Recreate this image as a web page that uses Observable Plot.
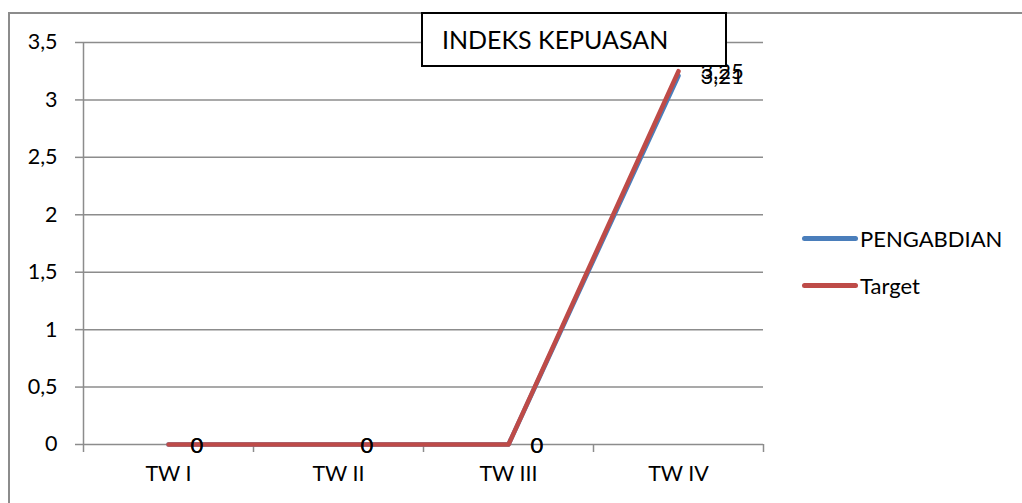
<!DOCTYPE html>
<html>
<head>
<meta charset="utf-8">
<script src="https://cdn.jsdelivr.net/npm/d3@7"></script>
<script src="https://cdn.jsdelivr.net/npm/@observablehq/plot@0.6"></script>
<style>
  html, body { margin: 0; padding: 0; background: #fff; }
  #wrap { position: relative; width: 1022px; height: 503px; overflow: hidden; font-family: Lato, "Open Sans", sans-serif; }
  #frame { position: absolute; left: 8px; top: 12px; width: 1100px; height: 600px; border-left: 2px solid #8c8c8c; border-top: 2px solid #8c8c8c; box-sizing: border-box; }
  #title { position: absolute; left: 421px; top: 12px; width: 306px; height: 55px; border: 2px solid #000; box-sizing: border-box; background: #fff; font-size: 25px; color: #000; padding-left: 19px; line-height: 51px; }
  .leg { position: absolute; left: 802px; font-size: 22px; color: #000; display: flex; align-items: center; }
  .leg .sw { width: 56px; height: 5px; border-radius: 3px; margin-right: 2px; }
  svg { position: absolute; left: 0; top: 0; }
</style>
</head>
<body>
<div id="wrap">
  <div id="frame"></div>
  <div id="chart"></div>
  <div id="title"></div>
  <div id="legend"></div>
</div>
<script>
const categories = ["TW I", "TW II", "TW III", "TW IV"];
const seriesNames = ["PENGABDIAN", "Target"];
const pengabdian = [0, 0, 0, 3.21];
const target = [0, 0, 0, 3.25];
const seriesColors = ["#4a7ebb", "#be4b48"];
const yTicks = [0, 0.5, 1, 1.5, 2, 2.5, 3, 3.5];
const titleText = "INDEKS KEPUASAN";

const fmt = v => String(v).replace(".", ",");
const rows = [];
[pengabdian, target].forEach((vals, s) => {
  vals.forEach((v, i) => rows.push({series: seriesNames[s], x: i + 1, cat: categories[i], value: v}));
});
const boundaries = d3.range(categories.length + 1).map(i => i + 0.5);

const chart = Plot.plot({
  width: 1022,
  height: 503,
  marginLeft: 83,
  marginRight: 259,
  marginTop: 42,
  marginBottom: 59,
  style: {fontFamily: "Lato, 'Open Sans', sans-serif", fontSize: "21.5px", color: "#000", background: "transparent"},
  x: {type: "linear", domain: [0.5, categories.length + 0.5]},
  y: {domain: [0, 3.5]},
  color: {domain: seriesNames, range: seriesColors},
  marks: [
    Plot.ruleY(yTicks.filter(d => d > 0), {stroke: "#8c8c8c", strokeWidth: 1.5, strokeOpacity: 1}),
    Plot.ruleY([0], {stroke: "#8c8c8c", strokeWidth: 1.5}),
    Plot.axisY({ticks: yTicks, tickFormat: fmt, tickSize: 8, tickPadding: 18, stroke: "#8c8c8c", strokeWidth: 1.5, strokeOpacity: 1, fill: "#000", label: null, fontSize: 21.5}),
    Plot.axisX({ticks: boundaries, tickFormat: () => "", tickSize: 8, stroke: "#8c8c8c", strokeWidth: 1.5, strokeOpacity: 1, label: null}),
    Plot.axisX({ticks: d3.range(1, categories.length + 1), tickFormat: i => categories[i - 1], tickSize: 0, tickPadding: 21, fill: "#000", label: null, fontSize: 21.5}),
    Plot.ruleX([0.5], {y1: 0, y2: 3.5, stroke: "#8c8c8c", strokeWidth: 1.5}),
    Plot.line(rows, {x: "x", y: "value", z: "series", stroke: "series", strokeWidth: 4.5, strokeLinecap: "round", strokeLinejoin: "round"}),
    Plot.text(rows, {x: "x", y: "value", text: d => fmt(d.value), textAnchor: "start", dx: 22, dy: 1, fill: "#000", fontSize: 22})
  ]
});
document.getElementById("chart").appendChild(chart);

document.getElementById("title").textContent = titleText;
const legend = document.getElementById("legend");
const legTops = [238, 285];
seriesNames.forEach((name, i) => {
  const div = document.createElement("div");
  div.className = "leg";
  div.style.top = (legTops[i] - 14) + "px";
  div.style.height = "28px";
  const sw = document.createElement("span");
  sw.className = "sw";
  sw.style.background = seriesColors[i];
  const t = document.createElement("span");
  t.textContent = name;
  div.appendChild(sw);
  div.appendChild(t);
  legend.appendChild(div);
});
</script>
</body>
</html>
